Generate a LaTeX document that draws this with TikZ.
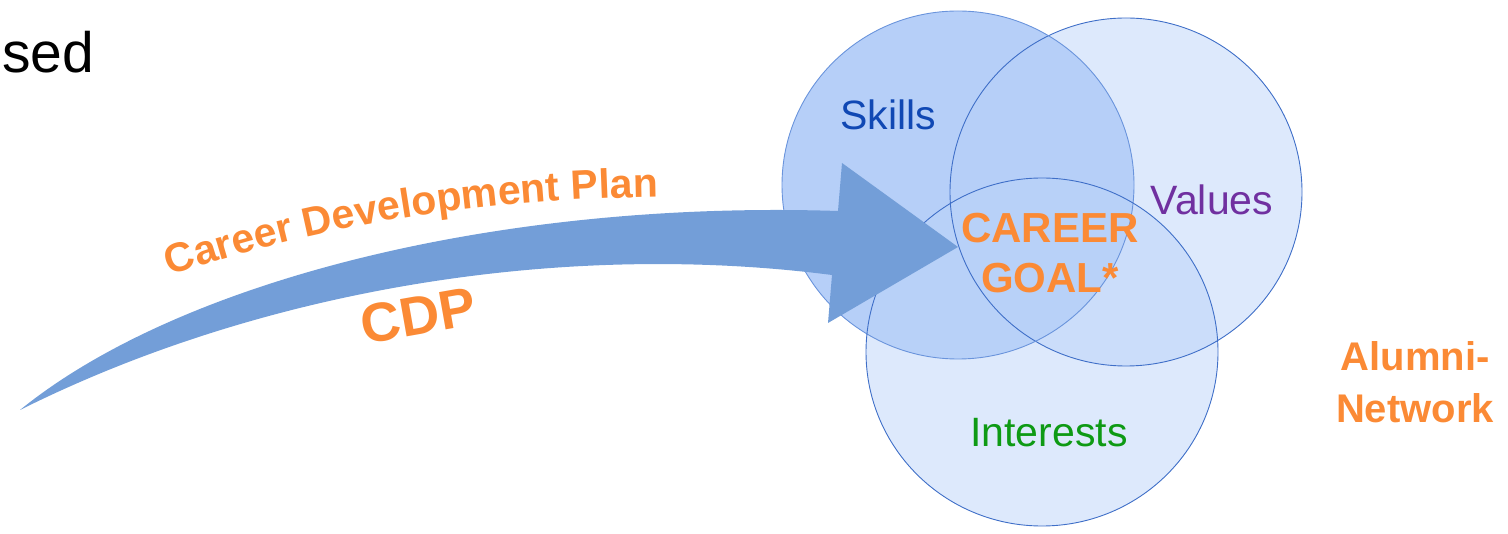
\documentclass[tikz,border=0pt]{standalone}
\usepackage{fontspec}
\setmainfont{Liberation Sans}
\usetikzlibrary{decorations.text}
\definecolor{arrowblue}{HTML}{739ED8}
\definecolor{cdporange}{HTML}{FB8A35}
\definecolor{skillblue}{HTML}{1048B4}
\definecolor{valpurple}{HTML}{7030A0}
\definecolor{intgreen}{HTML}{0E9A14}
\definecolor{skillfill}{HTML}{B6CFF8}
\definecolor{valfill}{HTML}{DDE9FC}
\definecolor{intfill}{HTML}{BBD3F9}
\definecolor{ringline}{HTML}{3F6FC8}
\definecolor{ringlight}{HTML}{6A94DC}
\tikzset{
  lbl/.style={inner sep=0pt, anchor=base},
  orangebold/.style={text=cdporange, font=\fontsize{42}{50}\selectfont\bfseries, align=center, inner sep=0pt}
}
\begin{document}
\begin{tikzpicture}[x=1pt,y=-1pt]
\useasboundingbox (0,0) rectangle (1508,534);
% circle centres
\coordinate (cs) at (958,185);
\coordinate (cv) at (1126,192);
\coordinate (ci) at (1042,352);
% fills
\fill[valfill] (cv) ellipse [x radius=176, y radius=174];
\fill[skillfill] (cs) ellipse [x radius=176, y radius=174];
\fill[intfill, fill opacity=0.5] (ci) ellipse [x radius=176, y radius=174];
% outlines
\draw[ringline, line width=0.9pt] (cv) ellipse [x radius=176, y radius=174];
\draw[ringlight, line width=0.9pt] (cs) ellipse [x radius=176, y radius=174];
\draw[ringline, line width=0.9pt] (ci) ellipse [x radius=176, y radius=174];
% big curved arrow
\coordinate (tail) at (20,410);
\coordinate (tip) at (958,247);
\fill[arrowblue] (tail) .. controls (180,280) and (500,200) .. (838,211)
  -- (842,163) -- (tip) -- (828,323) -- (832,275)
  .. controls (560,240) and (260,290) .. (tail) -- cycle;
% texts
\node[lbl, anchor=base west, font=\fontsize{57}{57}\selectfont] (sed) at (2,73) {sed};
\node[lbl, text=skillblue, font=\fontsize{41}{41}\selectfont] (skills) at (888,130) {Skills};
\node[lbl, text=valpurple, font=\fontsize{41}{41}\selectfont] (values) at (1212,215) {Values};
\node[lbl, text=intgreen, font=\fontsize{41}{41}\selectfont] (interests) at (1049,447) {Interests};
\node[orangebold] (goal) at (1050,253) {CAREER\\GOAL*};
\node[orangebold, font=\fontsize{40}{52}\selectfont\bfseries] (alumni) at (1415,382) {Alumni-\\Network};
\node[text=cdporange, font=\fontsize{55}{55}\selectfont\bfseries, rotate=10, inner sep=0pt] (cdp) at (418,316) {CDP};
\path[decorate, decoration={text along path, text align=left,
  text={|\fontsize{41}{41}\selectfont\bfseries\color{cdporange}|Career Development Plan}}]
  (170,276) .. controls (300,232) and (450,200) .. (658,197);
\end{tikzpicture}
\end{document}
